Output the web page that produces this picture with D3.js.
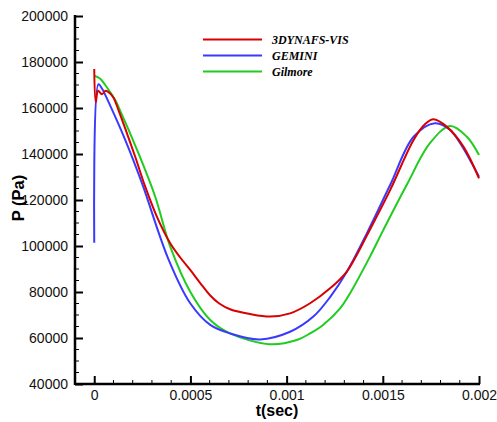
<!DOCTYPE html>
<html><head><meta charset="utf-8">
<script src="https://cdn.jsdelivr.net/npm/d3@7"></script>
<style>body{margin:0;background:#fff}</style>
</head><body>
<svg id="c" width="497" height="422"></svg>
<script>
const seriesNames = ["3DYNAFS-VIS", "GEMINI", "Gilmore"];
const seriesColors = ["#d80000", "#3a3aff", "#1fcc1f"];
// time (s), pressure (Pa)
const tRed = [0, 0.000008, 0.00002, 0.00004, 0.00006, 0.00008, 0.0001, 0.000126, 0.00017, 0.000213, 0.000265, 0.000326, 0.000395, 0.000447, 0.000499, 0.00055, 0.000603, 0.00065, 0.000706, 0.00081, 0.000914, 0.001018, 0.001122, 0.001226, 0.001312, 0.001364, 0.001417, 0.001538, 0.00166, 0.00172, 0.001763, 0.001832, 0.001919, 0.002];
const pRed = [177000, 162500, 167500, 166000, 167500, 166500, 164500, 159100, 149000, 138800, 125800, 112700, 101200, 95000, 89600, 84000, 78500, 75000, 72500, 70400, 69300, 70700, 75100, 81600, 88800, 96000, 104500, 124300, 146100, 153000, 155100, 151900, 143200, 129400];
const tBlue = [0, 0.000022, 0.00004, 0.000083, 0.000161, 0.000248, 0.000386, 0.000499, 0.000603, 0.000706, 0.000862, 0.001018, 0.001139, 0.001226, 0.001313, 0.001417, 0.001538, 0.00166, 0.001771, 0.00185, 0.002];
const pBlue = [101400, 170300, 168500, 161000, 146100, 127300, 94200, 75100, 65700, 62000, 59400, 62700, 69300, 77800, 88800, 105500, 126500, 147500, 153400, 150400, 130100];
const tGreen = [0, 0.00003, 0.000057, 0.000109, 0.000126, 0.00023, 0.000317, 0.000395, 0.000499, 0.000603, 0.000706, 0.000914, 0.001053, 0.001122, 0.001191, 0.001278, 0.00133, 0.001434, 0.001503, 0.001624, 0.001745, 0.00185, 0.001937, 0.002];
const pGreen = [174000, 172800, 170000, 163500, 160500, 140300, 121400, 99700, 80100, 67800, 62000, 57300, 59100, 62000, 65800, 72900, 79500, 95500, 107000, 126500, 144700, 152200, 147500, 139600];
const xTicks = [0, 0.0005, 0.001, 0.0015, 0.002];
const xTickLabels = ["0", "0.0005", "0.001", "0.0015", "0.002"];
const yTicks = [40000, 60000, 80000, 100000, 120000, 140000, 160000, 180000, 200000];

const svg = d3.select("#c");
const x = d3.scaleLinear().domain([-0.0001, 0.002]).range([75, 479]);
const y = d3.scaleLinear().domain([40000, 200000]).range([384, 16]);

const data = [
  tRed.map((t, i) => [t, pRed[i]]),
  tBlue.map((t, i) => [t, pBlue[i]]),
  tGreen.map((t, i) => [t, pGreen[i]])
];
const line = d3.line().x(d => x(d[0])).y(d => y(d[1])).curve(d3.curveCatmullRom.alpha(0.5));
const order = [2, 1, 0];
order.forEach(i => {
  svg.append("path").attr("d", line(data[i])).attr("fill", "none")
    .attr("stroke", seriesColors[i]).attr("stroke-width", 2).attr("stroke-linejoin", "round");
});

// axes
const font = "'Liberation Sans', Arial, sans-serif";
const xMinor = d3.range(0, 0.00201, 0.0001).filter(v => !xTicks.some(t => Math.abs(t - v) < 1e-9));
const yMinor = d3.range(40000, 200001, 5000).filter(v => !yTicks.includes(v));

const xAxis = svg.append("g").attr("transform", "translate(0,384)");
xAxis.call(d3.axisBottom(x).tickValues(xTicks).tickSize(-8).tickPadding(0).tickFormat((d, i) => xTickLabels[i]));
xAxis.select(".domain").remove();
xAxis.selectAll(".tick line").attr("stroke", "#000").attr("stroke-width", 2);
xAxis.selectAll(".tick text").attr("y", 6).attr("dy", "0.71em").attr("font-family", font).attr("font-size", 14).attr("fill", "#111");
xAxis.selectAll(".minor").data(xMinor).enter().append("line")
  .attr("x1", d => x(d)).attr("x2", d => x(d)).attr("y1", 0).attr("y2", -4)
  .attr("stroke", "#000").attr("stroke-width", 1);
xAxis.append("line").attr("x1", 75).attr("x2", 480).attr("y1", 0).attr("y2", 0).attr("stroke", "#000").attr("stroke-width", 2.5);

const yAxis = svg.append("g").attr("transform", "translate(75,0)");
yAxis.call(d3.axisLeft(y).tickValues(yTicks).tickSize(-8).tickFormat(d3.format("d")));
yAxis.select(".domain").remove();
yAxis.selectAll(".tick line").attr("stroke", "#000").attr("stroke-width", 2);
yAxis.selectAll(".tick text").attr("x", -7).attr("font-family", font).attr("font-size", 14).attr("fill", "#111");
yAxis.selectAll(".minor").data(yMinor).enter().append("line")
  .attr("x1", 0).attr("x2", 4).attr("y1", d => y(d)).attr("y2", d => y(d))
  .attr("stroke", "#000").attr("stroke-width", 1);
yAxis.append("line").attr("x1", 0).attr("x2", 0).attr("y1", 15).attr("y2", 385).attr("stroke", "#000").attr("stroke-width", 2.5);

svg.append("text").attr("x", 277).attr("y", 416).attr("text-anchor", "middle")
  .attr("font-family", font).attr("font-weight", "bold").attr("font-size", 16).text("t(sec)");
svg.append("text").attr("transform", "translate(24,198) rotate(-90)").attr("text-anchor", "middle")
  .attr("font-family", font).attr("font-weight", "bold").attr("font-size", 16.5).text("P (Pa)");

// legend
const lg = svg.append("g");
seriesNames.forEach((n, i) => {
  const yy = 39.5 + i * 16;
  lg.append("line").attr("x1", 203).attr("x2", 262).attr("y1", yy).attr("y2", yy)
    .attr("stroke", seriesColors[i]).attr("stroke-width", 2);
  lg.append("text").attr("x", 272).attr("y", yy + 4.5)
    .attr("font-family", "'Liberation Serif', 'Times New Roman', serif")
    .attr("font-style", "italic").attr("font-weight", "bold").attr("font-size", 12).text(n);
});
</script>
</body></html>
